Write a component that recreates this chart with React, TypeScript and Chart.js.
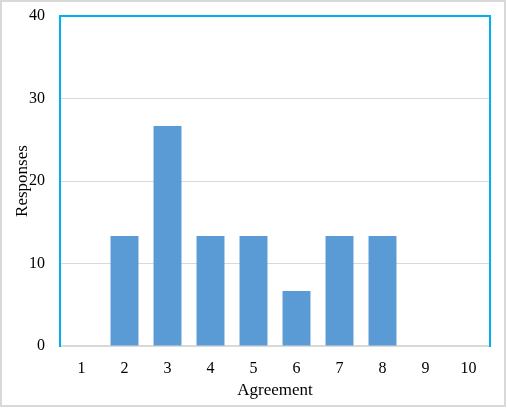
import React, { useEffect, useRef } from "react";
import { Chart, registerables } from "chart.js";

Chart.register(...registerables);

const categories = ["1", "2", "3", "4", "5", "6", "7", "8", "9", "10"];
const responses = [0, 13.33, 26.67, 13.33, 13.33, 6.67, 13.33, 13.33, 0, 0];
const yTicks = [0, 10, 20, 30, 40];
const xTitle = "Agreement";
const yTitle = "Responses";

const FONT = "'Liberation Serif', 'Times New Roman', serif";

const framePlugin = {
  id: "frame",
  afterDatasetsDraw(chart: any) {
    const { ctx, chartArea } = chart;
    const { left, right, top, bottom } = chartArea;
    ctx.save();
    ctx.strokeStyle = "#00b0f0";
    ctx.lineWidth = 2;
    ctx.beginPath();
    ctx.moveTo(left, bottom + 1);
    ctx.lineTo(left, top);
    ctx.lineTo(right, top);
    ctx.lineTo(right, bottom + 1);
    ctx.stroke();
    ctx.restore();
  },
  afterDraw(chart: any) {
    const { ctx, width, height } = chart;
    ctx.save();
    ctx.strokeStyle = "#d9d9d9";
    ctx.lineWidth = 2;
    ctx.strokeRect(1, 1, width - 3, height - 3);
    ctx.restore();
  },
};

export default function App() {
  const ref = useRef<HTMLCanvasElement>(null);
  useEffect(() => {
    const chart = new Chart(ref.current as HTMLCanvasElement, {
      type: "bar",
      data: {
        labels: categories,
        datasets: [
          {
            data: responses,
            backgroundColor: "#5b9bd5",
            categoryPercentage: 1,
            barPercentage: 0.65,
          },
        ],
      },
      options: {
        animation: false,
        responsive: false,
        layout: { padding: { left: 0, top: 16, right: 17, bottom: 0 } },
        plugins: { legend: { display: false }, tooltip: { enabled: false } },
        scales: {
          x: {
            grid: { display: false, drawTicks: false },
            border: { display: true, color: "#d9d9d9", width: 2 },
            ticks: { color: "#000", font: { family: FONT, size: 16 }, padding: 13 },
            title: {
              display: true,
              text: xTitle,
              color: "#000",
              font: { family: FONT, size: 17 },
              padding: { top: 7, bottom: 7 },
            },
            afterFit(scale: any) {
              scale.height = 62;
              scale.paddingLeft = 0;
              scale.paddingRight = 0;
            },
          },
          y: {
            min: yTicks[0],
            max: yTicks[yTicks.length - 1],
            afterBuildTicks(scale: any) {
              scale.ticks = yTicks.map((v) => ({ value: v }));
            },
            grid: { color: "#d9d9d9", lineWidth: 1, drawTicks: false },
            border: { display: false },
            ticks: { color: "#000", font: { family: FONT, size: 16 }, padding: 15 },
            title: {
              display: true,
              text: yTitle,
              color: "#000",
              font: { family: FONT, size: 17 },
              padding: { top: 12, bottom: 12 },
            },
            afterFit(scale: any) {
              scale.width = 60;
              scale.paddingTop = 0;
              scale.paddingBottom = 0;
            },
          },
        },
      },
      plugins: [framePlugin],
    });
    return () => chart.destroy();
  }, []);
  return (
    <div style={{ position: "absolute", left: 0, top: 0, width: 507, height: 408 }}>
      <canvas ref={ref} width={507} height={408} style={{ display: "block" }} />
    </div>
  );
}
